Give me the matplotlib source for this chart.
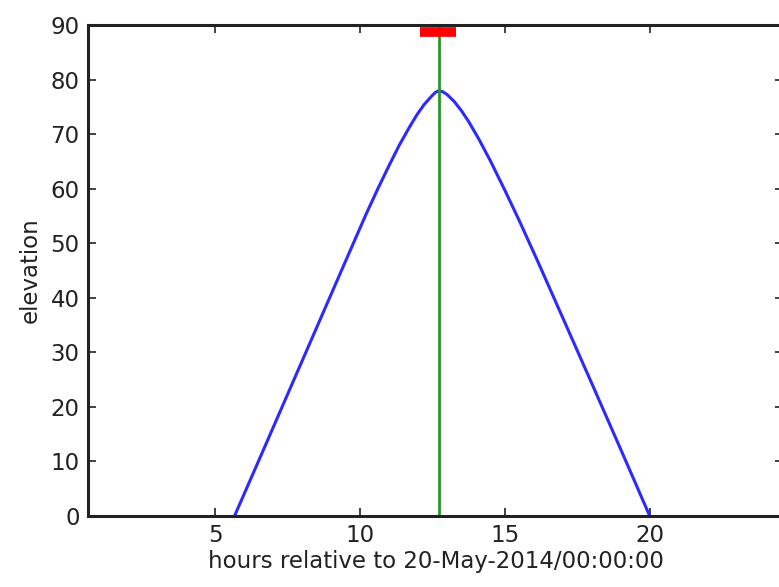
import matplotlib.pyplot as plt
import numpy as np

# elevation track of the target (hours after 20-May-2014 00:00)
hours = [5.66, 6.5, 7.5, 8.5, 9.5, 10.2, 10.6, 11.0, 11.35, 11.7, 11.95,
         12.2, 12.45, 12.6, 12.72, 12.85, 13.0, 13.25, 13.5, 13.75, 14.1,
         14.5, 15.0, 15.5, 16.2, 17.0, 18.0, 19.0, 20.0]
elev = [0, 10.2, 22.4, 34.6, 46.8, 55.3, 59.9, 64.3, 68.0, 71.3, 73.5,
        75.4, 76.9, 77.7, 78.0, 77.8, 77.3, 76.0, 74.3, 72.3, 69.1,
        65.1, 59.7, 54.1, 45.9, 36.3, 24.3, 12.2, 0]

transit = 12.72          # hour of maximum elevation
window = [12.07, 13.31]  # marked interval around transit
window_y = 88.7

xlim = (0.6, 24.6)
ylim = (0, 90)
xticks = [5, 10, 15, 20]
yticks = [0, 10, 20, 30, 40, 50, 60, 70, 80, 90]

fig = plt.figure(figsize=(7.79, 5.87), dpi=100)
ax = fig.add_axes([0.113, 0.121, 0.892, 0.836])

ax.plot(hours, elev, color='#2b2bff', lw=2.2)
ax.axvline(transit, color='#2a962a', lw=2)
ax.plot(window, [window_y, window_y], color='r', lw=7, solid_capstyle='butt')

ax.set_xlim(*xlim)
ax.set_ylim(*ylim)
ax.set_xticks(xticks)
ax.set_yticks(yticks)

ax.tick_params(axis='both', direction='in', top=True, right=True,
               length=6, width=1.2, labelsize=16.5, pad=6, colors='#222222')
for sp in ax.spines.values():
    sp.set_linewidth(2.2)
    sp.set_color('#222222')

ax.set_xlabel("hours relative to 20-May-2014/00:00:00", fontsize=16.5,
              color='#222222', labelpad=2)
ax.set_ylabel("elevation", fontsize=16.5, color='#222222', labelpad=6)

plt.savefig("out.png", dpi=100)
